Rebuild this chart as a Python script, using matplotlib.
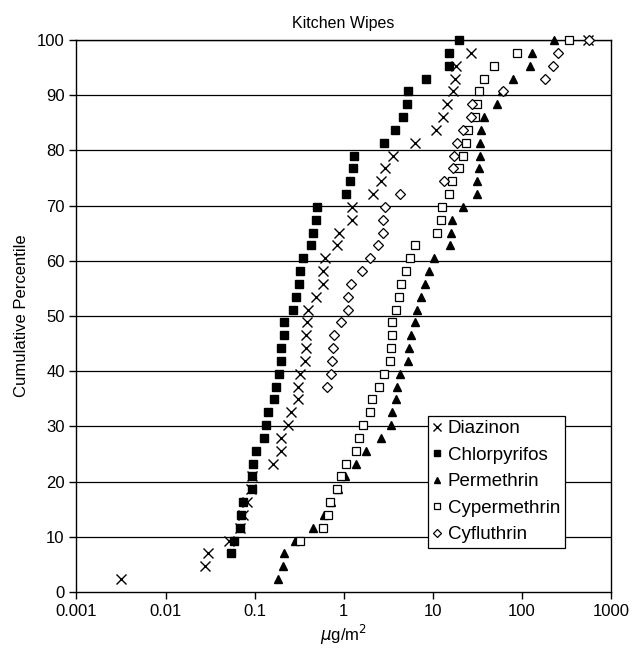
import numpy as np
import matplotlib
matplotlib.use("Agg")
import matplotlib.pyplot as plt
from matplotlib.ticker import FixedLocator, FixedFormatter

plt.rcParams['font.family'] = ['Liberation Sans', 'DejaVu Sans']

n_samples = 43
rank = np.arange(1, n_samples + 1)
percentile = rank / n_samples * 100

# values in ug/m2 by rank, None = not plotted (non-detect)
diazinon = [0.0032, 0.0277, 0.030, 0.051, 0.069, 0.074, 0.083, 0.092, 0.094, 0.16,
            0.20, 0.20, 0.24, 0.255, 0.307, 0.31, 0.325, 0.365, 0.375, 0.38,
            0.385, 0.395, 0.484, 0.58, 0.58, 0.61, 0.84, 0.89, 1.25, 1.25,
            2.13, 2.62, 2.94, 3.6, 6.3, 10.8, 13.1, 14.4, 16.9, 17.9,
            18.3, 26.7, 560]
chlorpyrifos = [None, None, 0.054, 0.0586, 0.068, 0.070, 0.074, 0.0925, 0.094, 0.097,
                0.103, 0.128, 0.136, 0.142, 0.166, 0.172, 0.186, 0.20, 0.20, 0.214,
                0.214, 0.272, 0.289, 0.312, 0.326, 0.352, 0.426, 0.447, 0.484, 0.506,
                1.06, 1.19, 1.27, 1.31, 2.84, 3.77, 4.69, 5.1, 5.24, 8.35,
                15.1, 15.3, 19.9]
permethrin = [0.183, 0.208, 0.216, 0.285, 0.452, 0.595, 0.73, 0.87, 1.04, 1.36,
              1.80, 2.6, 3.37, 3.46, 3.84, 3.92, 4.26, 5.29, 5.42, 5.66,
              6.28, 6.73, 7.3, 8.2, 9.1, 10.4, 15.7, 16.2, 16.3, 22.1,
              31.7, 31.7, 33.1, 33.5, 34.1, 34.7, 37.2, 52.7, 60, 79.6,
              122, 130, 227]
cypermethrin = [None, None, None, 0.323, 0.59, 0.667, 0.70, 0.85, 0.925, 1.05,
                1.36, 1.49, 1.65, 1.98, 2.06, 2.49, 2.84, 3.32, 3.43, 3.52,
                3.52, 3.9, 4.18, 4.4, 4.97, 5.56, 6.33, 11.3, 12.3, 12.8,
                15.2, 16.3, 19.7, 22.1, 23.9, 24.9, 30.2, 31.2, 33.1, 37.9,
                49.1, 88.5, 337]
cyfluthrin = [None] * 15 + [0.655, 0.714, 0.746, 0.759, 0.778, 0.925, 1.12, 1.12, 1.20, 1.62,
                            1.98, 2.43, 2.77, 2.77, 2.91, 4.29, 13.3, 16.9, 17.3, 18.9,
                            22.1, 27.2, 27.9, 61.9, 180, 225, 254, 566]

x_ticks = [0.001, 0.01, 0.1, 1, 10, 100, 1000]
x_labels = ["0.001", "0.01", "0.1", "1", "10", "100", "1000"]

series = [
    ("Diazinon", diazinon, dict(marker='x', ms=7, mew=1.0, mec='black')),
    ("Chlorpyrifos", chlorpyrifos, dict(marker='s', ms=5.5, mfc='black', mec='black')),
    ("Permethrin", permethrin, dict(marker='^', ms=6, mfc='black', mec='black')),
    ("Cypermethrin", cypermethrin, dict(marker='s', ms=5.5, mfc='white', mec='black', mew=0.9)),
    ("Cyfluthrin", cyfluthrin, dict(marker='D', ms=5.5, mfc='white', mec='black', mew=0.9)),
]

fig = plt.figure(figsize=(6.37, 6.53), dpi=100)
ax = fig.add_axes([0.120, 0.0934, 0.839, 0.8453])

for z, (name, vals, style) in enumerate(series):
    v = np.array([np.nan if a is None else a for a in vals], dtype=float)
    ax.plot(v, percentile, linestyle='none', label=name, zorder=3 + z, clip_on=False, **style)

ax.set_xscale('log')
ax.set_xlim(0.001, 1000)
ax.set_ylim(0, 100)
ax.xaxis.set_major_locator(FixedLocator(x_ticks))
ax.xaxis.set_major_formatter(FixedFormatter(x_labels))
ax.xaxis.set_minor_locator(FixedLocator([]))
ax.set_yticks(range(0, 101, 10))

for yv in range(10, 101, 10):
    ax.axhline(yv, color='black', lw=0.9, zorder=1)

for s in ax.spines.values():
    s.set_color('black')
    s.set_linewidth(1.0)

ax.tick_params(axis='both', direction='out', length=5, width=1, labelsize=12, colors='black')
ax.set_title("Kitchen Wipes", fontsize=11.5, pad=9)
ax.set_ylabel("Cumulative Percentile", fontsize=12, labelpad=6)
ax.set_xlabel(r"$\mu$g/m$^2$", fontsize=12, labelpad=3)

leg = ax.legend(loc='lower left', bbox_to_anchor=(0.6577, 0.0797), fontsize=13.5,
                frameon=True, fancybox=False, edgecolor='black', framealpha=1,
                handlelength=0.5, handletextpad=0.3, borderpad=0.25, labelspacing=0.5,
                borderaxespad=0, markerscale=0.8)
leg.get_frame().set_linewidth(0.9)
leg.set_zorder(20)

fig.savefig("out.png", dpi=100)
